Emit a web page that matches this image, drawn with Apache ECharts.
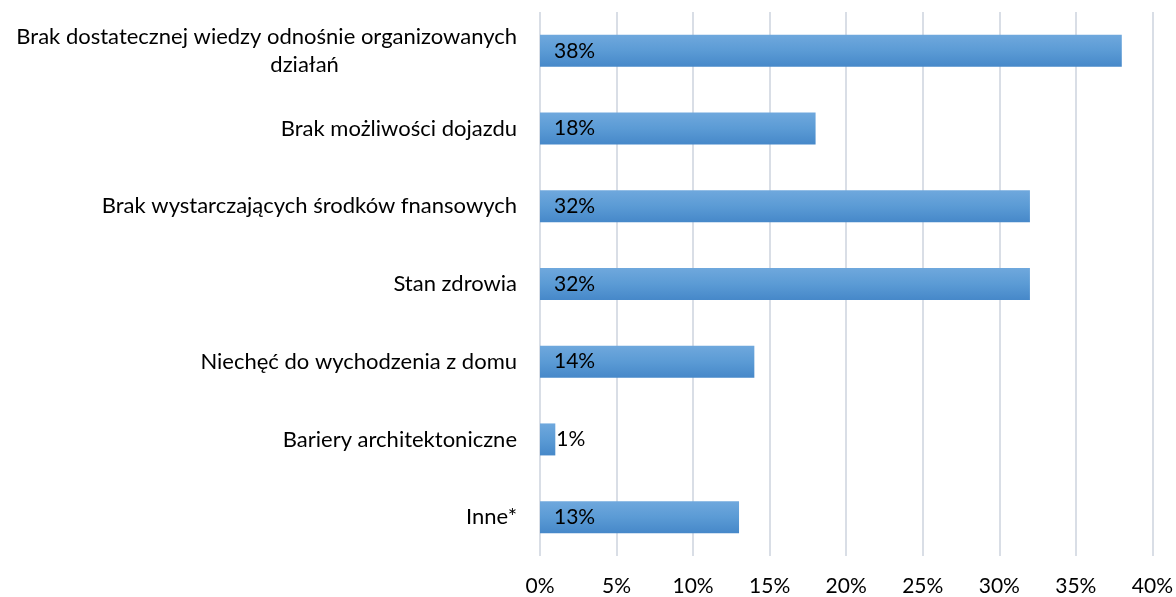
<!DOCTYPE html>
<html>
<head>
<meta charset="utf-8">
<script src="https://cdn.jsdelivr.net/npm/echarts@6/dist/echarts.min.js"></script>
<style>
	html, body { margin: 0; padding: 0; background: #fff; }
	#chart { width: 1176px; height: 597px; }
</style>
</head>
<body>
<div id="chart"></div>
<script>
var categories = [
	'Brak dostatecznej wiedzy odnośnie organizowanych działań',
	'Brak możliwości dojazdu',
	'Brak wystarczających środków fnansowych',
	'Stan zdrowia',
	'Niechęć do wychodzenia z domu',
	'Bariery architektoniczne',
	'Inne*'
];
var values = [38, 18, 32, 32, 14, 1, 13];
var tickLabels = ['0%', '5%', '10%', '15%', '20%', '25%', '30%', '35%', '40%'];

(function(){
	var chart = echarts.init(document.getElementById('chart'));
	var font = 'Lato';
	var fs = 22;
	var option = {
		animation: false,
		grid: { left: 540, right: 23, top: 12, bottom: 41, containLabel: false },
		xAxis: {
			type: 'value',
			min: 0,
			max: 40,
			interval: 5,
			axisLine: { show: false },
			axisTick: { show: false },
			splitLine: { lineStyle: { color: '#d9dee6', width: 2 } },
			axisLabel: {
				margin: 20,
				color: '#000',
				fontFamily: font,
				fontSize: 21,
				formatter: function(v){ return tickLabels[v / 5]; }
			}
		},
		yAxis: {
			type: 'category',
			inverse: true,
			data: categories,
			axisLine: { show: false },
			axisTick: { show: false },
			axisLabel: {
				margin: 23,
				color: '#000',
				fontFamily: font,
				fontSize: fs,
				lineHeight: 28,
				formatter: function(v){
					if (v === categories[0]) {
						return '{a|Brak dostatecznej wiedzy odnośnie organizowanych}\n{b|działań}';
					}
					return v;
				},
				rich: {
					a: { fontFamily: font, fontSize: fs, color: '#000', lineHeight: 28 },
					b: { fontFamily: font, fontSize: fs, color: '#000', lineHeight: 28, align: 'left', padding: [0, 0, 0, 254] }
				}
			}
		},
		series: [{
			type: 'bar',
			data: values,
			barWidth: 32,
			itemStyle: {
				color: new echarts.graphic.LinearGradient(0, 0, 0, 1, [
					{ offset: 0, color: '#6fa8dd' },
					{ offset: 0.5, color: '#5b9bd5' },
					{ offset: 1, color: '#4688c9' }
				])
			},
			label: {
				show: true,
				position: 'insideLeft',
				distance: 14,
				color: '#000',
				fontFamily: font,
				fontSize: 21,
				formatter: '{c}%'
			}
		}]
	};
	chart.setOption(option);
	// the 1% bar is too narrow, label goes just outside it
	chart.setOption({
		series: [{
			data: values.map(function(v){
				if (v < 3) return { value: v, label: { position: 'right', distance: 1 } };
				return v;
			})
		}]
	});
})();
</script>
</body>
</html>
